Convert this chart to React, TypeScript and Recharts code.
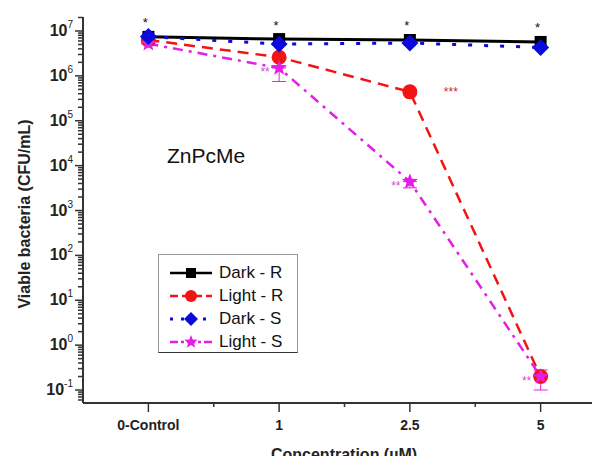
import React from "react";
import { LineChart, Line, XAxis, YAxis, ErrorBar, LabelList } from "recharts";

const xPositions = [1, 2, 3, 4];
const xLabels = ["0-Control", "1", "2.5", "5"];
const xMinorTicks = [1.5, 2.5, 3.5];

const darkR = [7.4e6, 6.6e6, 6.3e6, 5.7e6];
const lightR = [6.3e6, 2.6e6, 4.4e5, 0.2];
const darkS = [7.5e6, 5.1e6, 5.4e6, 4.3e6];
const lightS = [5.2e6, 1.5e6, 4.4e3, 0.2];
const lightSErrMinus = [0, 7.5e5, 1.2e3, 0.1];
const lightSErrPlus = [0, 0, 0, 0.08];

const darkRMarks = ["*", "*", "*", "*"];
const lightRMarks = ["", "", "***", ""];
const lightSMarks = ["", "**", "**", "**"];

const decades = [-1, 0, 1, 2, 3, 4, 5, 6, 7];
const minorMultipliers = [2, 3, 4, 5, 6, 7, 8, 9];

const Y_MIN = 0.0514;
const Y_MAX = 2.05e7;

const FONT = "'Liberation Sans', Arial, sans-serif";

const C_BLACK = "#000000";
const C_RED = "#f01414";
const C_BLUE = "#0a0adc";
const C_MAG = "#e51ee5";

const data = xPositions.map((x, i) => ({
  x,
  darkR: darkR[i],
  lightR: lightR[i],
  darkS: darkS[i],
  lightS: lightS[i],
  lsErr: [lightSErrMinus[i], lightSErrPlus[i]],
  darkRMark: darkRMarks[i],
  lightRMark: lightRMarks[i],
  lightSMark: lightSMarks[i],
}));

const yTicks: number[] = [];
decades.forEach((d) => {
  yTicks.push(Math.pow(10, d));
  minorMultipliers.forEach((m) => {
    const v = m * Math.pow(10, d);
    if (v <= Y_MAX) yTicks.push(v);
  });
});
[6, 7, 8, 9].forEach((m) => yTicks.push(m * 0.01));
yTicks.sort((a, b) => a - b);

const xTicks = [...xPositions, ...xMinorTicks].sort((a, b) => a - b);

function starPath(cx: number, cy: number, R: number) {
  const r = R * 0.42;
  let d = "";
  for (let i = 0; i < 10; i++) {
    const rad = i % 2 === 0 ? R : r;
    const a = -Math.PI / 2 + (i * Math.PI) / 5;
    const px = cx + rad * Math.cos(a);
    const py = cy + rad * Math.sin(a);
    d += (i === 0 ? "M" : "L") + px.toFixed(2) + "," + py.toFixed(2);
  }
  return d + "Z";
}

const Marker = ({ kind, cx, cy, s }: { kind: string; cx: number; cy: number; s: number }) => {
  if (kind === "square")
    return <rect x={cx - s / 2} y={cy - s / 2} width={s} height={s} fill={C_BLACK} />;
  if (kind === "circle") return <circle cx={cx} cy={cy} r={s / 2} fill={C_RED} />;
  if (kind === "diamond")
    return (
      <path
        d={`M${cx},${cy - s / 2}L${cx + s / 2},${cy}L${cx},${cy + s / 2}L${cx - s / 2},${cy}Z`}
        fill={C_BLUE}
      />
    );
  return <path d={starPath(cx, cy, s / 2)} fill={C_MAG} />;
};

const makeDot = (kind: string, s: number) => (props: any) => {
  const { cx, cy, index } = props;
  if (cx == null || cy == null) return <g key={index} />;
  return (
    <g key={`${kind}-${index}`}>
      <Marker kind={kind} cx={cx} cy={cy} s={s} />
    </g>
  );
};

const YTick = (props: any) => {
  const { x, y, payload } = props;
  const v = payload.value;
  const lg = Math.log10(v);
  const exp = Math.round(lg);
  const major = Math.abs(lg - exp) < 1e-6;
  return (
    <g>
      <line x1={x} x2={x - (major ? 8 : 5)} y1={y} y2={y} stroke="#333" strokeWidth={1.5} />
      {major && (
        <text x={x - 10} y={y + 5} textAnchor="end" fontFamily={FONT} fill="#222">
          <tspan fontSize={16} fontWeight="bold">10</tspan>
          <tspan fontSize={10} dy={-8}>{exp}</tspan>
        </text>
      )}
    </g>
  );
};

const XTick = (props: any) => {
  const { x, y, payload } = props;
  const v = payload.value;
  const idx = xPositions.indexOf(v);
  const major = idx >= 0;
  return (
    <g>
      <line x1={x} x2={x} y1={y} y2={y + (major ? 9 : 4)} stroke="#333" strokeWidth={1.5} />
      {major && (
        <text x={x} y={y + 27} textAnchor="middle" fontFamily={FONT} fontSize={14} fontWeight="bold" fill="#222">
          {xLabels[idx]}
        </text>
      )}
    </g>
  );
};

const markLabel = (color: string, dx: number, dy: number, size: number) => (props: any) => {
  const { x, y, value } = props;
  if (!value) return null;
  return (
    <text x={x + dx} y={y + dy} textAnchor="middle" dominantBaseline="central" fontFamily={FONT} fontSize={size} fill={color}>
      {value}
    </text>
  );
};

const legendItems = [
  { name: "Dark - R", kind: "square", color: C_BLACK, dash: "", s: 10 },
  { name: "Light - R", kind: "circle", color: C_RED, dash: "8 4", s: 12 },
  { name: "Dark - S", kind: "diamond", color: C_BLUE, dash: "3 8", s: 14 },
  { name: "Light - S", kind: "star", color: C_MAG, dash: "8 3 3 3", s: 14 },
];

export default function App() {
  return (
    <div style={{ position: "relative", width: 600, height: 464, margin: -8, overflow: "hidden", background: "#fff" }}>
      <LineChart
        width={606}
        height={464}
        data={data}
        margin={{ top: 17, right: 0, bottom: 31, left: 23 }}
      >
        <XAxis
          dataKey="x"
          type="number"
          domain={[0.5, 4.5]}
          ticks={xTicks}
          interval={0}
          height={30}
          tickSize={0}
          tickMargin={0}
          tickLine={false}
          tick={<XTick />}
          axisLine={{ stroke: "#333", strokeWidth: 2 }}
        />
        <YAxis
          type="number"
          scale="log"
          domain={[Y_MIN, Y_MAX]}
          allowDataOverflow
          ticks={yTicks}
          interval={0}
          width={60}
          tickSize={0}
          tickMargin={0}
          tickLine={false}
          tick={<YTick />}
          axisLine={{ stroke: "#333", strokeWidth: 2 }}
        />
        <Line dataKey="darkR" stroke={C_BLACK} strokeWidth={3} dot={makeDot("square", 12)} isAnimationActive={false}>
          <LabelList dataKey="darkRMark" content={markLabel("#111", -3, -14, 13)} />
        </Line>
        <Line dataKey="lightR" stroke={C_RED} strokeWidth={2.5} strokeDasharray="11 7" dot={makeDot("circle", 15)} isAnimationActive={false}>
          <LabelList dataKey="lightRMark" content={markLabel("#d02828", 41, 0, 12)} />
        </Line>
        <Line dataKey="lightS" stroke={C_MAG} strokeWidth={2.5} strokeDasharray="10 6 3 6" dot={makeDot("star", 17)} isAnimationActive={false}>
          <ErrorBar dataKey="lsErr" direction="y" width={7} stroke={C_MAG} strokeWidth={1} />
          <LabelList dataKey="lightSMark" content={markLabel("#d050d0", -14, 4, 12)} />
        </Line>
        <Line dataKey="darkS" stroke={C_BLUE} strokeWidth={3} strokeDasharray="4 12" dot={makeDot("diamond", 17)} isAnimationActive={false} />
      </LineChart>
      <div style={{ position: "absolute", left: 167, top: 144, fontFamily: FONT, fontSize: 21, color: "#111", whiteSpace: "nowrap" }}>
        ZnPcMe
      </div>
      <div
        style={{
          position: "absolute",
          left: 158,
          top: 254,
          width: 138,
          height: 97,
          border: "1px solid #999",
          borderBottom: "1.5px solid #333",
          background: "#fff",
          fontFamily: FONT,
          fontSize: 17,
          color: "#111",
        }}
      >
        {legendItems.map((it, i) => (
          <div key={it.name} style={{ position: "absolute", left: 0, top: 7 + i * 23, height: 22, display: "flex", alignItems: "center" }}>
            <svg width={58} height={22} style={{ display: "block" }}>
              <line x1={11} x2={53} y1={11} y2={11} stroke={it.color} strokeWidth={it.kind === "diamond" ? 3 : 2.5} strokeDasharray={it.dash} />
              <Marker kind={it.kind} cx={32} cy={11} s={it.s} />
            </svg>
            <span style={{ marginLeft: 2, whiteSpace: "nowrap" }}>{it.name}</span>
          </div>
        ))}
      </div>
      <div
        style={{
          position: "absolute",
          left: 25,
          top: 214,
          transform: "translate(-50%, -50%) rotate(-90deg)",
          fontFamily: FONT,
          fontSize: 16,
          fontWeight: "bold",
          color: "#222",
          whiteSpace: "nowrap",
        }}
      >
        Viable bacteria (CFU/mL)
      </div>
      <div
        style={{
          position: "absolute",
          left: 344,
          top: 455,
          transform: "translate(-50%, -50%)",
          fontFamily: FONT,
          fontSize: 16,
          fontWeight: "bold",
          color: "#222",
          whiteSpace: "nowrap",
        }}
      >
        Concentration (µM)
      </div>
    </div>
  );
}
